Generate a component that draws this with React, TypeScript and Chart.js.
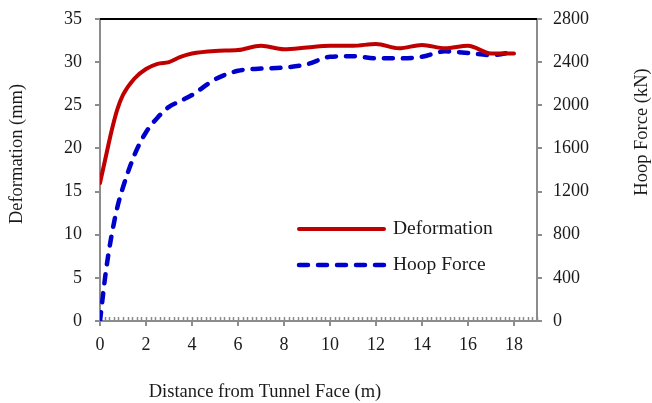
import { useEffect, useRef } from "react";
import { Chart, registerables } from "chart.js";

Chart.register(...registerables);

// Distance from the tunnel face (m)
const distance = [0, 0.25, 0.5, 0.75, 1, 1.5, 2, 2.5, 3, 3.5, 4, 5, 6, 7, 8, 9, 10, 11, 12, 13, 14, 15, 16, 17, 18];
// Lining deformation (mm)
const deformation = [16.0, 19.0, 22.0, 24.5, 26.2, 28.1, 29.2, 29.8, 30.0, 30.6, 31.0, 31.3, 31.4, 31.9, 31.5, 31.7, 31.9, 31.9, 32.1, 31.6, 32.0, 31.6, 31.9, 31.0, 31.0];
// Hoop force (kN)
const hoopForce = [0, 450, 790, 1050, 1240, 1540, 1750, 1885, 1985, 2040, 2095, 2240, 2320, 2340, 2350, 2380, 2450, 2455, 2435, 2435, 2450, 2500, 2485, 2465, 2495];

const xTicks = [0, 2, 4, 6, 8, 10, 12, 14, 16, 18];
const leftTicks = [0, 5, 10, 15, 20, 25, 30, 35];
const rightTicks = [0, 400, 800, 1200, 1600, 2000, 2400, 2800];

const seriesNames = ["Deformation", "Hoop Force"];
const xTitle = "Distance from Tunnel Face (m)";
const leftTitle = "Deformation (mm)";
const rightTitle = "Hoop Force (kN)";

const FONT = "'Liberation Serif', 'Times New Roman', serif";
const AXIS_GREY = "#8c8c8c";
const TEXT = "#1a1a1a";
const RED = "#c00000";
const BLUE = "#0000cc";

const decor = {
  id: "decor",
  afterDraw(chart: any) {
    const { ctx, chartArea, scales } = chart;
    const { left, right, top, bottom } = chartArea;
    ctx.save();

    // black frame line along the top of the plot
    ctx.strokeStyle = "#000";
    ctx.lineWidth = 2;
    ctx.beginPath();
    ctx.moveTo(left, top);
    ctx.lineTo(right, top);
    ctx.stroke();

    // minor ticks on the distance axis, pointing into the plot
    const xs = scales.x;
    ctx.strokeStyle = AXIS_GREY;
    ctx.lineWidth = 1.5;
    ctx.beginPath();
    for (let i = 1; i <= 95; i++) {
      const v = i * 0.2;
      if (v > xs.max + 1e-6) break;
      const px = Math.round(xs.getPixelForValue(v)) + 0.5;
      ctx.moveTo(px, bottom);
      ctx.lineTo(px, bottom - 4);
    }
    ctx.stroke();

    // axis titles
    ctx.fillStyle = TEXT;
    ctx.font = `18.5px ${FONT}`;
    ctx.textAlign = "center";
    ctx.textBaseline = "middle";
    ctx.fillText(xTitle, 265, 392);

    ctx.save();
    ctx.translate(17, 154);
    ctx.rotate(-Math.PI / 2);
    ctx.fillText(leftTitle, 0, 0);
    ctx.restore();

    ctx.save();
    ctx.translate(642, 132);
    ctx.rotate(-Math.PI / 2);
    ctx.fillText(rightTitle, 0, 0);
    ctx.restore();

    // legend inside the plot
    ctx.font = `19.5px ${FONT}`;
    const rows = [229, 265];
    chart.data.datasets.forEach((ds: any, i: number) => {
      const y = rows[i];
      ctx.strokeStyle = ds.borderColor;
      ctx.lineWidth = ds.borderWidth;
      ctx.lineCap = ds.borderCapStyle || "butt";
      ctx.setLineDash(ds.borderDash || []);
      ctx.beginPath();
      ctx.moveTo(299, y);
      ctx.lineTo(384, y);
      ctx.stroke();
      ctx.setLineDash([]);
      ctx.fillStyle = TEXT;
      ctx.textAlign = "left";
      ctx.fillText(ds.label, 393, y);
    });

    ctx.restore();
  },
};

export default function App() {
  const canvasRef = useRef<HTMLCanvasElement>(null);

  useEffect(() => {
    if (!canvasRef.current) return;
    const tickFont = { family: FONT, size: 18 };
    const plain = (v: any) => String(v);
    const fixWidth = (w: number) => (s: any) => {
      s.width = w;
      s.paddingTop = 0;
      s.paddingBottom = 0;
    };
    const chart = new Chart(canvasRef.current, {
      type: "line",
      data: {
        datasets: [
          {
            label: seriesNames[0],
            data: distance.map((d, i) => ({ x: d, y: deformation[i] })),
            yAxisID: "y",
            borderColor: RED,
            borderWidth: 4,
            pointRadius: 0,
            cubicInterpolationMode: "monotone",
            borderCapStyle: "round",
            borderJoinStyle: "round",
          },
          {
            label: seriesNames[1],
            data: distance.map((d, i) => ({ x: d, y: hoopForce[i] })),
            yAxisID: "y1",
            borderColor: BLUE,
            borderWidth: 4.5,
            borderDash: [9, 10],
            borderCapStyle: "round",
            pointRadius: 0,
            cubicInterpolationMode: "monotone",
          },
        ],
      },
      options: {
        animation: false,
        responsive: false,
        devicePixelRatio: 1,
        layout: { padding: { top: 19, left: 0, right: 0, bottom: 0 } },
        plugins: { legend: { display: false }, tooltip: { enabled: false } },
        scales: {
          x: {
            type: "linear",
            min: 0,
            max: 19,
            afterBuildTicks: (s: any) => {
              s.ticks = xTicks.map((v) => ({ value: v }));
            },
            afterFit: (s: any) => {
              s.height = 82;
              s.paddingLeft = 0;
              s.paddingRight = 0;
            },
            grid: { drawOnChartArea: false, drawTicks: true, tickLength: 5, color: AXIS_GREY, lineWidth: 2 },
            border: { display: true, color: AXIS_GREY, width: 2 },
            ticks: { font: tickFont, color: TEXT, padding: 8, maxRotation: 0, autoSkip: false, callback: plain },
          },
          y: {
            type: "linear",
            position: "left",
            min: 0,
            max: 35,
            afterBuildTicks: (s: any) => {
              s.ticks = leftTicks.map((v) => ({ value: v }));
            },
            afterFit: fixWidth(100),
            grid: { drawOnChartArea: false, drawTicks: true, tickLength: 5, color: AXIS_GREY, lineWidth: 2 },
            border: { display: true, color: AXIS_GREY, width: 2 },
            ticks: { font: tickFont, color: TEXT, padding: 13, autoSkip: false, callback: plain },
          },
          y1: {
            type: "linear",
            position: "right",
            min: 0,
            max: 2800,
            afterBuildTicks: (s: any) => {
              s.ticks = rightTicks.map((v) => ({ value: v }));
            },
            afterFit: fixWidth(115),
            grid: { drawOnChartArea: false, drawTicks: true, tickLength: 5, color: AXIS_GREY, lineWidth: 2 },
            border: { display: true, color: AXIS_GREY, width: 2 },
            ticks: { font: tickFont, color: TEXT, padding: 11, autoSkip: false, callback: plain },
          },
        },
      },
      plugins: [decor],
    } as any);
    return () => chart.destroy();
  }, []);

  return (
    <div style={{ position: "absolute", left: 0, top: 0, width: 652, height: 403, background: "#fff" }}>
      <canvas ref={canvasRef} width={652} height={403} style={{ display: "block" }} />
    </div>
  );
}
